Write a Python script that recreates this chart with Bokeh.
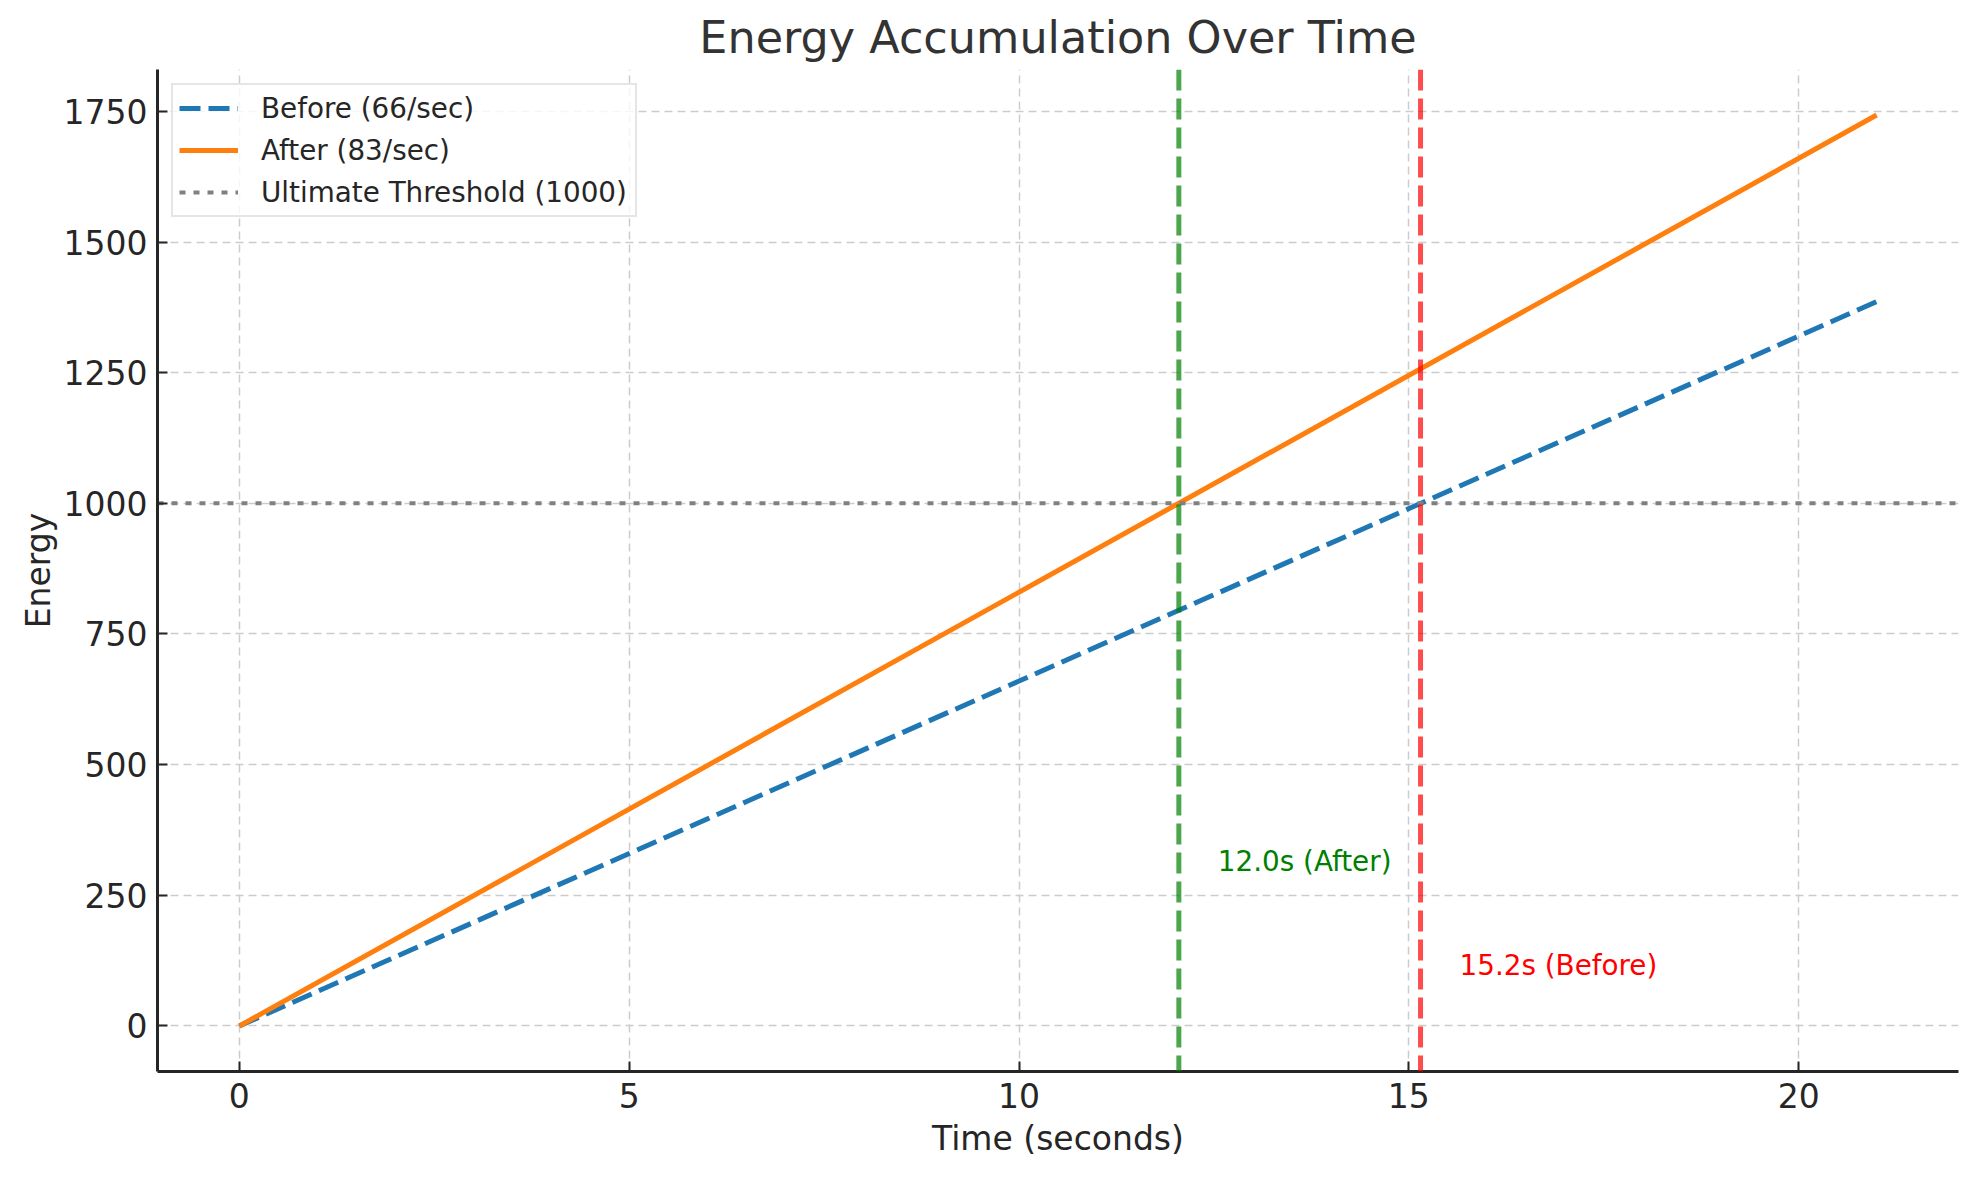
from bokeh.plotting import figure
from bokeh.models import Range1d, SingleIntervalTicker, Span, Legend, LegendItem
from bokeh.core.properties import value
from bokeh.embed import file_html
from bokeh.resources import INLINE

# ---- data ----
times = [0, 21]
before_energy = [0, 1386]
after_energy = [0, 1743]
threshold = 1000
before_label = "Before (66/sec)"
after_label = "After (83/sec)"
threshold_label = "Ultimate Threshold (1000)"
cross_after = 12.05
cross_before = 15.15
marker_text = ["12.0s (After)", "15.2s (Before)"]
marker_text_y = [300, 100]
x_ticks_interval = 5
y_ticks_interval = 250

FONT = "DejaVu Sans"
TXT = "#262626"

xmin, xmax = min(times), max(times)
ymin, ymax = 0, max(after_energy)
xpad = 0.05 * (xmax - xmin)
ypad = 0.05 * (ymax - ymin)
x_lo, x_hi = xmin - xpad, xmax + xpad

p = figure(
    frame_width=1801, frame_height=1002,
    x_range=Range1d(x_lo, x_hi),
    y_range=Range1d(ymin - ypad, ymax + ypad),
    output_backend="svg", toolbar_location=None,
    min_border_left=157, min_border_right=6, min_border_top=69, min_border_bottom=93,
    background_fill_color="white", border_fill_color="white",
    title="Energy Accumulation Over Time",
)
p.outline_line_color = None

p.title.align = "center"
p.title.text_font = FONT
p.title.text_font_size = "44.5px"
p.title.text_font_style = "normal"
p.title.text_color = "#333333"
p.title.standoff = 13

# axes
p.xaxis.ticker = SingleIntervalTicker(interval=x_ticks_interval)
p.yaxis.ticker = SingleIntervalTicker(interval=y_ticks_interval)
for ax in (p.xaxis[0], p.yaxis[0]):
    ax.major_tick_in = 10
    ax.major_tick_out = 0
    ax.minor_tick_line_color = None
    ax.major_tick_line_width = 2
    ax.major_tick_line_color = TXT
    ax.axis_line_width = 3
    ax.axis_line_color = TXT
    ax.major_label_text_font = FONT
    ax.major_label_text_font_size = "33px"
    ax.major_label_text_color = TXT
    ax.axis_label_text_font = FONT
    ax.axis_label_text_font_size = "33px"
    ax.axis_label_text_font_style = "normal"
    ax.axis_label_text_color = TXT
p.xaxis.axis_label = "Time (seconds)"
p.yaxis.axis_label = "Energy"
p.xaxis.major_label_standoff = 7
p.yaxis.major_label_standoff = 6
p.xaxis.axis_label_standoff = 8
p.yaxis.axis_label_standoff = 3

for g in (p.xgrid[0], p.ygrid[0]):
    g.grid_line_color = "#cccccc"
    g.grid_line_dash = "8 5"
    g.grid_line_width = 1.5

# lines
r_before = p.line(times, before_energy, line_color="#1f77b4", line_width=5, line_dash="21 8")
r_after = p.line(times, after_energy, line_color="#ff7f0e", line_width=5)

# threshold (spans the whole x range)
r_thr = p.line([x_lo, x_hi], [threshold, threshold], line_color="#808080",
               line_width=4, line_dash="6 8")

# crossing markers
p.add_layout(Span(location=cross_after, dimension="height", line_color="green",
                  line_alpha=0.7, line_width=5, line_dash="21 8"))
p.add_layout(Span(location=cross_before, dimension="height", line_color="red",
                  line_alpha=0.7, line_width=5, line_dash="21 8"))

p.text(x=[cross_after + 0.5, cross_before + 0.5], y=marker_text_y, text=marker_text,
       text_color=["green", "red"], text_font=value(FONT), text_font_size="27.8px",
       text_baseline="alphabetic", text_align="left", y_offset=-8)

legend = Legend(items=[
    LegendItem(label=before_label, renderers=[r_before]),
    LegendItem(label=after_label, renderers=[r_after]),
    LegendItem(label=threshold_label, renderers=[r_thr]),
], location="top_left")
legend.label_text_font = FONT
legend.label_text_font_size = "27.8px"
legend.label_text_color = TXT
legend.glyph_width = 59
legend.glyph_height = 34
legend.label_height = 34
legend.label_width = 368
legend.label_standoff = 23
legend.spacing = 8
legend.padding = 6
legend.margin = 14
legend.border_line_color = "#cccccc"
legend.border_line_width = 2
legend.background_fill_alpha = 0.8
p.add_layout(legend)

open("out.html", "w").write(file_html(p, INLINE))
